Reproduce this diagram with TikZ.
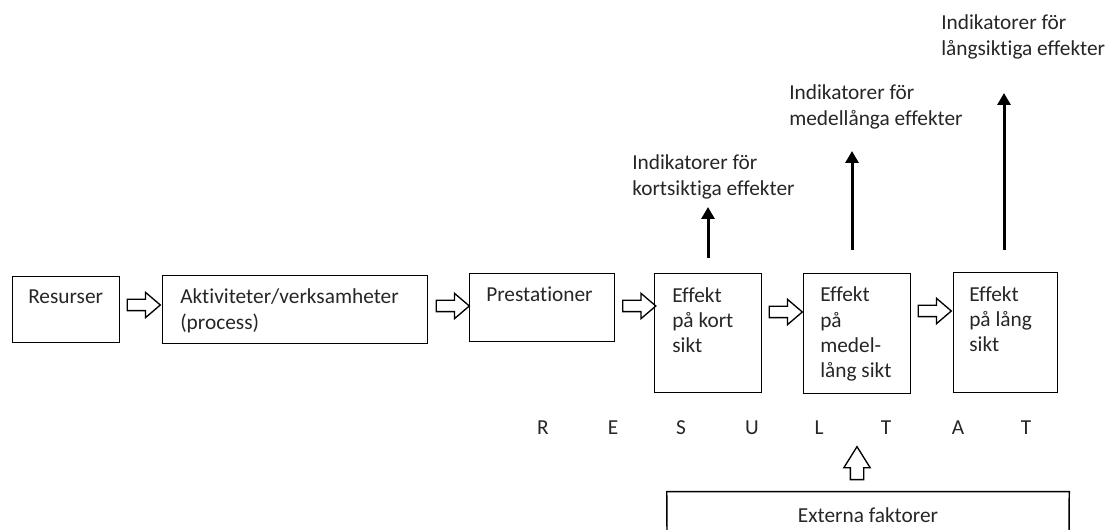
\documentclass[tikz,border=0pt]{standalone}
\usepackage{fontspec}
\setmainfont{Carlito}[RawFeature={-liga}]
\usetikzlibrary{shapes.arrows,arrows.meta,calc}
\definecolor{txt}{RGB}{38,38,38}
\tikzset{
  box/.style={draw=black, line width=1.1pt, rectangle, inner sep=0pt, anchor=north west},
  lbl/.style={inner sep=0pt, anchor=base west, align=left, text=txt,
              font=\fontsize{16}{19}\selectfont},
  letter/.style={inner sep=0pt, text=txt, font=\fontsize{16}{19}\selectfont},
  harrow/.style={single arrow, draw=black, line width=1pt, inner sep=3.75pt,
                 minimum height=24.75pt,
                 single arrow head extend=5.25pt, single arrow tip angle=81},
  varrow/.style={single arrow, draw=black, line width=1pt, inner sep=4.5pt,
                 minimum height=24.75pt,
                 single arrow head extend=4.9pt, single arrow tip angle=64,
                 shape border rotate=90},
  up/.style={line width=2.25pt, -{Triangle[length=9pt,width=9.75pt]}},
}
\begin{document}
\begin{tikzpicture}[x=0.75pt,y=-0.75pt]
\useasboundingbox (0,0) rectangle (1110,530);
% boxes
\node[box, minimum width=80.25pt, minimum height=49.5pt] (res) at (12,276) {};
\node[box, minimum width=198.75pt, minimum height=51pt] (akt) at (162,275) {};
\node[box, minimum width=108.75pt, minimum height=51pt] (pre) at (469,273) {};
\node[box, minimum width=80.25pt, minimum height=89.25pt] (kort) at (654,273) {};
\node[box, minimum width=80.25pt, minimum height=90pt] (medel) at (803,273) {};
\node[box, minimum width=78pt, minimum height=90pt] (lang) at (953,272) {};
% box texts (base = baseline of last line)
\node[lbl] (tres) at (28,304) {Resurser};
\node[lbl] (takt) at (180,329.3) {Aktiviteter/verksamheter\\(process)};
\node[lbl] (tpre) at (486,302) {Prestationer};
\node[lbl] (tkort) at (672,352.7) {Effekt\\på kort\\sikt};
\node[lbl] (tmedel) at (820,378) {Effekt\\på\\medel-\\lång sikt};
\node[lbl] (tlang) at (969,351.7) {Effekt\\på lång\\sikt};
% hollow arrows between boxes
\node[harrow] (h1) at (140.5,305) {};
\node[harrow] (h2) at (449.5,306) {};
\node[harrow] (h3) at (636,306) {};
\node[harrow] (h4) at (782.5,312) {};
\node[harrow] (h5) at (931.5,311) {};
% indicator labels
\node[lbl] (ik) at (632,195.3) {Indikatorer för\\kortsiktiga effekter};
\node[lbl] (im) at (789,125.3) {Indikatorer för\\medellånga effekter};
\node[lbl] (il) at (941,55.3) {Indikatorer för\\långsiktiga effekter};
% up arrows
\coordinate (k0) at (708,258);
\coordinate (k1) at (708,207);
\coordinate (m0) at (852,250);
\coordinate (m1) at (852,151);
\coordinate (l0) at (1004,250);
\coordinate (l1) at (1004,93);
\draw[up] (k0) -- (k1);
\draw[up] (m0) -- (m1);
\draw[up] (l0) -- (l1);
% RESULTAT
\foreach \l/\x [count=\i] in {R/543,E/613,S/681,U/752,L/819,T/886,A/958,T/1026}
  \node[letter] (r\i) at (\x,428) {\l};
% external factors
\node[varrow] (hv) at (857,468.5) {};
\node[inner sep=0pt, minimum width=301.5pt, minimum height=34.5pt] (ext) at (868,515) {};
\node[letter] (text) at (ext.center) {Externa faktorer};
\coordinate (eb1) at (667,530);
\coordinate (eb2) at (1069,530);
\draw[line width=1.1pt] (eb1) -- (ext.north west) -- (ext.north east) -- (eb2);
\end{tikzpicture}
\end{document}
